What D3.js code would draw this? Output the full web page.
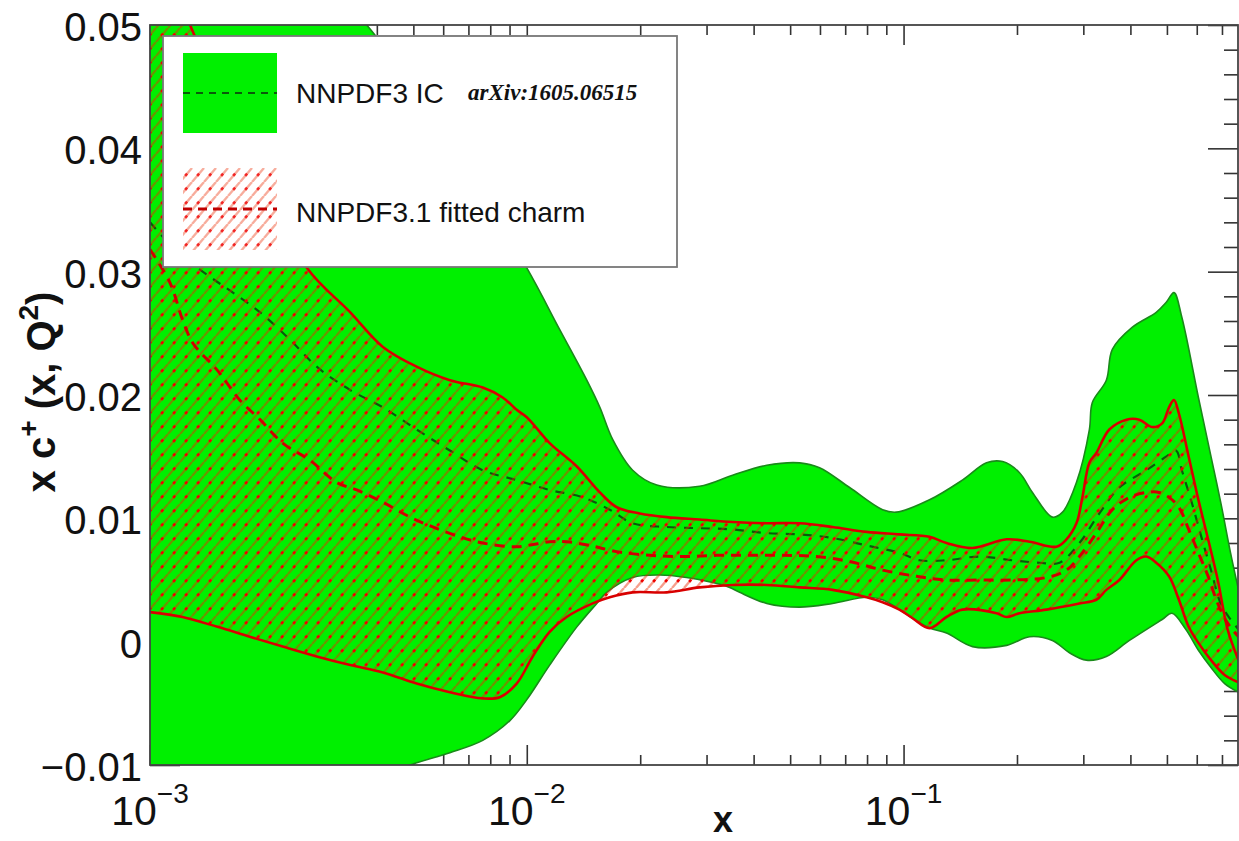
<!DOCTYPE html>
<html>
<head>
<meta charset="utf-8">
<script src="https://cdn.jsdelivr.net/npm/d3@7"></script>
<style>
  html, body { margin: 0; padding: 0; background: #fff; }
  svg { display: block; }
</style>
</head>
<body>
<svg id="chart" width="1239" height="841" font-family="'Liberation Sans', Arial, Helvetica, sans-serif"></svg>
<script>
// ---------------- data ----------------
const xDomain = [0.001, 0.772];
const yDomain = [-0.01, 0.05];
const xMajorTicks = [0.001, 0.01, 0.1];
const xTickExponents = ["\u22123", "\u22122", "\u22121"];
const yMajorTicks = [-0.01, 0, 0.01, 0.02, 0.03, 0.04, 0.05];
const yTickLabels = ["\u22120.01", "0", "0.01", "0.02", "0.03", "0.04", "0.05"];
const legendLabels = ["NNPDF3 IC", "NNPDF3.1 fitted charm"];
const legendNote = "arXiv:1605.06515";

// NNPDF3 IC band (upper, lower) and central value
const icUpper = [[0.001,0.070],[0.002,0.058],[0.00376,0.050],[0.0052,0.0439],[0.00706,0.0378],[0.0100,0.0303],[0.01223,0.0253],[0.01443,0.0212],[0.01563,0.0190],[0.0169,0.0164],[0.0191,0.0139],[0.02213,0.0127],[0.02875,0.0126],[0.03518,0.0135],[0.04335,0.0143],[0.05298,0.0145],[0.05984,0.0141],[0.0719,0.0125],[0.088,0.0107],[0.0957,0.0105],[0.1172,0.0115],[0.1433,0.0131],[0.166,0.0145],[0.1832,0.0146],[0.2031,0.0137],[0.2198,0.0121],[0.2483,0.0101],[0.2642,0.0105],[0.2876,0.0129],[0.3113,0.0172],[0.317,0.0194],[0.3453,0.0212],[0.3582,0.0237],[0.4049,0.0255],[0.4684,0.0267],[0.4974,0.0275],[0.522,0.0283],[0.5477,0.0263],[0.6061,0.0198],[0.6546,0.0150],[0.6946,0.0113],[0.7376,0.0072],[0.7745,0.0042]];
const icLower = [[0.001,-0.016],[0.003,-0.0125],[0.0049,-0.0100],[0.00625,-0.0090],[0.00764,-0.0080],[0.00902,-0.0064],[0.0100,-0.0047],[0.0115,-0.0019],[0.01358,0.0012],[0.01534,0.0031],[0.0163,0.0040],[0.0191,0.0052],[0.02254,0.0054],[0.02656,0.0052],[0.03113,0.0048],[0.03455,0.0044],[0.03672,0.0040],[0.04335,0.0031],[0.05298,0.0028],[0.0648,0.0031],[0.0798,0.0036],[0.088,0.0034],[0.0975,0.0026],[0.1057,0.0019],[0.1172,0.0011],[0.130,0.0007],[0.1524,-0.0004],[0.1877,-0.0003],[0.216,0.0004],[0.2483,0.0001],[0.2756,-0.0009],[0.3057,-0.0015],[0.3453,-0.0012],[0.3976,0.0001],[0.4856,0.0018],[0.5157,0.0023],[0.561,0.0010],[0.6061,-0.0007],[0.6546,-0.0021],[0.7115,-0.0034],[0.7745,-0.0041]];
const icCentral = [[0.001,0.0340],[0.0012,0.0314],[0.00144,0.0296],[0.00166,0.0283],[0.00196,0.0267],[0.00235,0.0245],[0.00277,0.0223],[0.0034,0.0204],[0.00415,0.0190],[0.0051,0.0172],[0.00625,0.0155],[0.00764,0.0139],[0.0094,0.0131],[0.0115,0.0123],[0.0141,0.0117],[0.0166,0.0107],[0.0191,0.0096],[0.0235,0.0093],[0.02875,0.0092],[0.03518,0.0091],[0.04335,0.0088],[0.05298,0.0087],[0.0648,0.0084],[0.0798,0.0078],[0.0975,0.0072],[0.1102,0.0066],[0.130,0.0066],[0.1591,0.0069],[0.1946,0.0066],[0.2294,0.0064],[0.2594,0.0064],[0.2929,0.0080],[0.3309,0.0104],[0.3738,0.0125],[0.4409,0.0139],[0.4974,0.0150],[0.5283,0.0155],[0.5477,0.0139],[0.5816,0.0113],[0.6171,0.0085],[0.6546,0.0058],[0.6946,0.0031],[0.7376,0.0018],[0.7745,0.0010]];

// NNPDF3.1 fitted charm band (upper, lower) and central value
const fcUpper = [[0.001,0.058],[0.0015,0.045],[0.002,0.037],[0.00261,0.0303],[0.0034,0.0267],[0.00415,0.0239],[0.0051,0.0223],[0.00625,0.0212],[0.00764,0.0206],[0.00863,0.0198],[0.0094,0.0188],[0.0100,0.0182],[0.0115,0.0161],[0.01358,0.0142],[0.01563,0.0121],[0.01733,0.0109],[0.01995,0.0104],[0.0235,0.0101],[0.02875,0.0099],[0.03518,0.0097],[0.04335,0.0096],[0.05298,0.0096],[0.0648,0.0093],[0.0798,0.0089],[0.0975,0.0087],[0.1172,0.0085],[0.130,0.0080],[0.1524,0.0076],[0.1877,0.0083],[0.216,0.0081],[0.2545,0.0077],[0.2706,0.0083],[0.2876,0.0096],[0.2983,0.0117],[0.3113,0.0145],[0.3248,0.0153],[0.3517,0.0172],[0.3904,0.0180],[0.4224,0.0180],[0.4572,0.0174],[0.4856,0.0177],[0.5065,0.0190],[0.522,0.0196],[0.5379,0.0185],[0.5712,0.0150],[0.6061,0.0115],[0.6431,0.0083],[0.6822,0.0050],[0.7244,0.0010],[0.7745,-0.0015]];
const fcLower = [[0.001,0.0024],[0.00122,0.0020],[0.00151,0.0012],[0.00184,0.0004],[0.00225,-0.0004],[0.00277,-0.0012],[0.0034,-0.0019],[0.00415,-0.0025],[0.0051,-0.0034],[0.00625,-0.0041],[0.00764,-0.0046],[0.00848,-0.0045],[0.0094,-0.0034],[0.01037,-0.0012],[0.0115,0.0008],[0.01276,0.0020],[0.01496,0.0031],[0.0166,0.0036],[0.0191,0.0040],[0.0235,0.0040],[0.02875,0.0044],[0.03518,0.0046],[0.04335,0.0046],[0.05298,0.0044],[0.0648,0.0042],[0.0798,0.0036],[0.088,0.0032],[0.0975,0.0026],[0.1057,0.0019],[0.1172,0.0011],[0.130,0.0020],[0.1433,0.0026],[0.1766,0.0023],[0.1877,0.0020],[0.2031,0.0023],[0.2395,0.0026],[0.2929,0.0031],[0.3248,0.0034],[0.3453,0.0042],[0.3738,0.0050],[0.4149,0.0066],[0.4409,0.0069],[0.4684,0.0064],[0.5065,0.0053],[0.5379,0.0034],[0.5712,0.0012],[0.6061,-0.0001],[0.6546,-0.0015],[0.7115,-0.0027],[0.7745,-0.0033]];
const fcCentral = [[0.001,0.0318],[0.00113,0.0291],[0.00122,0.0261],[0.0013,0.0242],[0.00151,0.0220],[0.00173,0.0196],[0.00196,0.0180],[0.00225,0.0161],[0.00266,0.0147],[0.00313,0.0129],[0.00354,0.0123],[0.00415,0.0113],[0.0049,0.0101],[0.00563,0.0093],[0.00664,0.0085],[0.00764,0.0080],[0.0094,0.0077],[0.0115,0.0081],[0.01276,0.0081],[0.01469,0.0078],[0.01733,0.0073],[0.0212,0.0070],[0.02594,0.0069],[0.0319,0.0070],[0.03906,0.0070],[0.04779,0.0070],[0.05875,0.0069],[0.0719,0.0065],[0.088,0.0058],[0.1082,0.0053],[0.130,0.0050],[0.1591,0.0050],[0.1946,0.0050],[0.2395,0.0052],[0.2706,0.0058],[0.2929,0.0069],[0.3248,0.0088],[0.3582,0.0107],[0.3976,0.0117],[0.4409,0.0121],[0.4769,0.0121],[0.5065,0.0117],[0.5379,0.0109],[0.5712,0.0091],[0.6061,0.0072],[0.6431,0.0053],[0.6822,0.0031],[0.7244,0.0015],[0.7745,0.0004]];

// ---------------- layout ----------------
const L = 150, R = 1238, T = 25, B = 765;
const GREEN = "#00f000", GREEN_EDGE = "#1a8a1a", GREEN_DASH = "#0a5a0a";
const RED = "#f00000";

const svg = d3.select("#chart");
const x = d3.scaleLog().domain(xDomain).range([L, R]);
const y = d3.scaleLinear().domain(yDomain).range([B, T]);

const defs = svg.append("defs");
defs.append("clipPath").attr("id", "plotClip")
  .append("rect").attr("x", L).attr("y", T).attr("width", R - L).attr("height", B - T);

// hatch pattern: semi-transparent red diagonals with red dots
const pat = defs.append("pattern").attr("id", "hatch")
  .attr("patternUnits", "userSpaceOnUse").attr("width", 12).attr("height", 14);
const hatchD = "M0,14 L12,0 M-6,7 L0,0 M12,14 L18,7";
pat.append("path").attr("d", hatchD).attr("stroke", "rgba(235,40,0,0.45)").attr("stroke-width", 2.4).attr("fill", "none");
pat.append("path").attr("d", "M0,14 L12,0").attr("stroke", RED).attr("stroke-width", 2.6)
  .attr("stroke-dasharray", "3,15.4").attr("stroke-dashoffset", -8).attr("fill", "none");

// minor tick values
const xMinor = [];
for (let e = -3; e <= -1; e++) for (let k = 2; k <= 9; k++) { const v = k * Math.pow(10, e); if (v < xDomain[1]) xMinor.push(v); }
const yMinor = d3.range(-0.01, 0.0501, 0.002).filter(v => !yMajorTicks.some(m => Math.abs(m - v) < 1e-9));

// ---------------- axes ticks (drawn beneath the bands) ----------------
const tickG = svg.append("g").attr("class", "ticks");
function addAxis(gen, tx, ty, vals, size) {
  const g = tickG.append("g").attr("transform", `translate(${tx},${ty})`)
    .call(gen.tickValues(vals).tickSize(size).tickSizeOuter(0).tickFormat(""));
  g.select(".domain").remove();
  g.selectAll("line").attr("stroke", "#333").attr("stroke-width", 1.6);
}
addAxis(d3.axisTop(x), 0, B, xMajorTicks, 20);
addAxis(d3.axisTop(x), 0, B, xMinor, 10);
addAxis(d3.axisBottom(x), 0, T, xMajorTicks, 20);
addAxis(d3.axisBottom(x), 0, T, xMinor, 10);
addAxis(d3.axisLeft(y), R, 0, yMajorTicks, 30);
addAxis(d3.axisLeft(y), R, 0, yMinor, 14);
addAxis(d3.axisRight(y), L, 0, yMajorTicks, 30);
addAxis(d3.axisRight(y), L, 0, yMinor, 14);

// ---------------- bands ----------------
const line = d3.line().x(d => x(d[0])).y(d => y(d[1])).curve(d3.curveCatmullRom.alpha(0.5));
function bandPath(up, lo) {
  return line(up) + line(lo.slice().reverse()).replace(/^M/, "L") + "Z";
}
const plot = svg.append("g").attr("clip-path", "url(#plotClip)");

plot.append("path").attr("d", bandPath(icUpper, icLower)).attr("fill", GREEN);
plot.append("path").attr("d", line(icUpper)).attr("fill", "none").attr("stroke", GREEN_EDGE).attr("stroke-width", 1.6);
plot.append("path").attr("d", line(icLower)).attr("fill", "none").attr("stroke", GREEN_EDGE).attr("stroke-width", 1.6);
plot.append("path").attr("d", line(icCentral)).attr("fill", "none").attr("stroke", GREEN_DASH)
  .attr("stroke-width", 2.2).attr("stroke-dasharray", "9,8");

plot.append("path").attr("d", bandPath(fcUpper, fcLower)).attr("fill", "url(#hatch)");
plot.append("path").attr("d", line(fcUpper)).attr("fill", "none").attr("stroke", "#d80000").attr("stroke-width", 2.6);
plot.append("path").attr("d", line(fcLower)).attr("fill", "none").attr("stroke", "#d80000").attr("stroke-width", 2.6);
plot.append("path").attr("d", line(fcCentral)).attr("fill", "none").attr("stroke", "#d00000")
  .attr("stroke-width", 3).attr("stroke-dasharray", "10,7");

// ---------------- frame ----------------
svg.append("rect").attr("x", L).attr("y", T).attr("width", R - L).attr("height", B - T)
  .attr("fill", "none").attr("stroke", "#444").attr("stroke-width", 1.8);

// ---------------- tick labels ----------------
const yLab = svg.append("g");
yMajorTicks.forEach((v, i) => {
  yLab.append("text").attr("x", 142).attr("y", y(v) + 16)
    .attr("text-anchor", "end").attr("font-size", 40).attr("fill", "#111").text(yTickLabels[i]);
});
const xLab = svg.append("g");
xMajorTicks.forEach((v, i) => {
  const t = xLab.append("text").attr("y", 825).attr("font-size", 41).attr("fill", "#111");
  t.append("tspan").text("10");
  t.append("tspan").attr("dy", -22).attr("font-size", 28).text(xTickExponents[i]);
  const w = t.node().getComputedTextLength();
  t.attr("x", x(v) - w / 2);
});

// axis titles
svg.append("text").attr("x", 723).attr("y", 832).attr("text-anchor", "middle")
  .attr("font-size", 36).attr("font-weight", "bold").attr("fill", "#111").text("x");

const yt = svg.append("text").attr("transform", "translate(55,392) rotate(-90)")
  .attr("text-anchor", "middle").attr("font-size", 40).attr("font-weight", "bold").attr("fill", "#111");
yt.append("tspan").text("x c");
yt.append("tspan").attr("dy", -17).attr("font-size", 28).text("+");
yt.append("tspan").attr("dy", 17).text(" (x, Q");
yt.append("tspan").attr("dy", -17).attr("font-size", 28).text("2");
yt.append("tspan").attr("dy", 17).text(")");

// ---------------- legend ----------------
const lg = svg.append("g");
lg.append("rect").attr("x", 163).attr("y", 36).attr("width", 514).attr("height", 231)
  .attr("fill", "#fff").attr("stroke", "#777").attr("stroke-width", 1.8);
lg.append("rect").attr("x", 183).attr("y", 53).attr("width", 94).attr("height", 80).attr("fill", GREEN);
lg.append("line").attr("x1", 183).attr("x2", 277).attr("y1", 93).attr("y2", 93)
  .attr("stroke", GREEN_DASH).attr("stroke-width", 2.2).attr("stroke-dasharray", "7,6");
lg.append("rect").attr("x", 183).attr("y", 168).attr("width", 94).attr("height", 82).attr("fill", "url(#hatch)").attr("opacity", 0.85);
lg.append("line").attr("x1", 183).attr("x2", 277).attr("y1", 209).attr("y2", 209)
  .attr("stroke", "#c00000").attr("stroke-width", 3).attr("stroke-dasharray", "9,6");
lg.append("text").attr("x", 296).attr("y", 103).attr("font-size", 28).attr("fill", "#111").text(legendLabels[0]);
lg.append("text").attr("x", 296).attr("y", 222).attr("font-size", 28).attr("fill", "#111").text(legendLabels[1]);
lg.append("text").attr("x", 468).attr("y", 100).attr("font-size", 23)
  .style("font-family", "'Liberation Serif', 'Times New Roman', serif")
  .style("font-style", "italic").style("font-weight", "bold").attr("fill", "#111").text(legendNote);
</script>
</body>
</html>
